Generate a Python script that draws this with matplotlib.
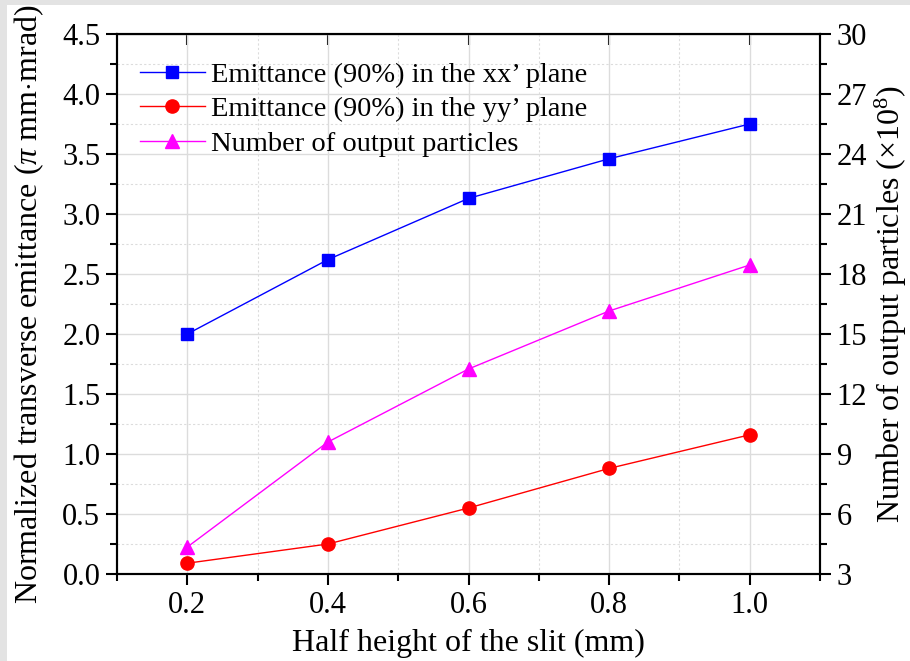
import numpy as np
import matplotlib
matplotlib.use("Agg")
import matplotlib.pyplot as plt
from matplotlib.patches import Rectangle
from matplotlib.ticker import MultipleLocator, FormatStrFormatter

# --- DATA ---
slit = [0.2, 0.4, 0.6, 0.8, 1.0]
emit_xx = [2.00, 2.62, 3.13, 3.46, 3.75]
emit_yy = [0.09, 0.25, 0.55, 0.88, 1.16]
n_particles = [4.35, 9.6, 13.25, 16.15, 18.45]  # x1e8

labels = ["Emittance (90%) in the xx\u2019 plane",
          "Emittance (90%) in the yy\u2019 plane",
          "Number of output particles"]

# --- STYLE ---
plt.rcParams['font.family'] = ['Liberation Serif', 'DejaVu Serif']
plt.rcParams['mathtext.fontset'] = 'custom'
plt.rcParams['mathtext.rm'] = 'Liberation Serif'
plt.rcParams['mathtext.it'] = 'Liberation Serif:italic'

fig = plt.figure(figsize=(9.1, 6.61), dpi=100)
fig.patch.set_facecolor('#e3e3e3')
fig.patches.append(Rectangle((7 / 910, 0), 1, 1 - 5 / 661, transform=fig.transFigure,
                             facecolor='white', edgecolor='none', zorder=-10))

ax = fig.add_axes([0.1286, 0.1316, 0.7725, 0.817])
ax.set_facecolor('none')
ax2 = ax.twinx()

l1, = ax.plot(slit, emit_xx, color='blue', lw=1, marker='s', ms=8.5, label=labels[0])
l2, = ax.plot(slit, emit_yy, color='red', lw=1, marker='o', ms=9.5, label=labels[1])
l3, = ax2.plot(slit, n_particles, color='magenta', lw=1, marker='^', ms=10, label=labels[2])

ax.set_xlim(0.1, 1.1)
ax.set_ylim(0, 4.5)
ax2.set_ylim(3, 30)

ax.xaxis.set_major_locator(MultipleLocator(0.2))
ax.xaxis.set_minor_locator(MultipleLocator(0.1))
ax.yaxis.set_major_locator(MultipleLocator(0.5))
ax.yaxis.set_minor_locator(MultipleLocator(0.25))
ax2.yaxis.set_major_locator(MultipleLocator(3))
ax2.yaxis.set_minor_locator(MultipleLocator(1.5))
ax.xaxis.set_major_formatter(FormatStrFormatter('%.1f'))
ax.yaxis.set_major_formatter(FormatStrFormatter('%.1f'))

ax.grid(which='major', color='#dcdcdc', lw=1, ls='-')
ax.grid(which='minor', color='#dcdcdc', lw=0.8, ls=(0, (2, 2)))
ax.set_axisbelow(True)

for a in (ax, ax2):
    for s in a.spines.values():
        s.set_linewidth(1.5)
ax.tick_params(which='major', direction='out', length=8, width=1.5, labelsize=22, pad=4)
ax.tick_params(which='minor', direction='out', length=5, width=1.5)
ax2.tick_params(which='major', direction='out', length=8, width=1.5, labelsize=22, pad=4)
ax2.tick_params(which='minor', direction='out', length=5, width=1.5)

top = ax.secondary_xaxis('top')
top.xaxis.set_major_locator(MultipleLocator(0.2))
top.tick_params(direction='in', length=8, width=1.5, labelbottom=False, labeltop=False)
top.xaxis.set_minor_locator(MultipleLocator(1.0))
top.tick_params(which='minor', length=0)

ax.set_xlabel("Half height of the slit (mm)", fontsize=23, labelpad=7)
ax.set_ylabel(r"Normalized transverse emittance ($\pi$ mm$\cdot$mrad)", fontsize=23, labelpad=12)
ax2.set_ylabel(r"Number of output particles ($\times$10$^{8}$)", fontsize=23, labelpad=4)

ax.legend(handles=[l1, l2, l3], loc='upper left', frameon=False, fontsize=20.5,
          handlelength=2.3, borderaxespad=0.2, labelspacing=0.3, handletextpad=0.2,
          bbox_to_anchor=(0.008, 0.98))

fig.savefig("out.png", dpi=100)
